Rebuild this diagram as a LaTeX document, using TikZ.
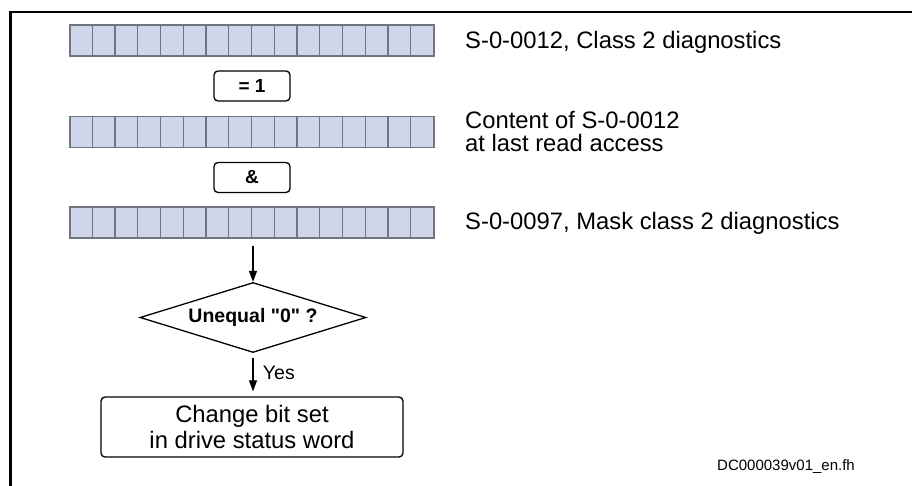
\documentclass[tikz,border=0pt]{standalone}
\usepackage{fontspec}
\setmainfont{Liberation Sans}[Ligatures=TeXOff]
\usetikzlibrary{shapes.geometric,arrows.meta}
\definecolor{cellfill}{RGB}{208,214,234}
\definecolor{celldraw}{RGB}{112,117,128}
\tikzset{
  bitrow/.style={draw=celldraw, fill=cellfill, line width=1.1pt, minimum width=364pt, minimum height=31pt, inner sep=0pt},
  opbox/.style={draw, line width=1.3pt, rounded corners=4pt, minimum width=76pt, minimum height=30pt, inner sep=0pt, font=\fontsize{19}{21}\selectfont\bfseries},
  sidetext/.style={anchor=base west, inner sep=0pt, font=\fontsize{23.8}{23.5}\selectfont},
  flowarrow/.style={line width=1.2pt, -{Triangle[length=11pt,width=8pt]}},
}
\begin{document}
\begin{tikzpicture}[x=1pt,y=-1pt]
\useasboundingbox (0,0) rectangle (912,486);
% frame corner
\draw[line width=3pt] (10.5,486) -- (10.5,11);
\draw[line width=2pt] (9,11.8) -- (912,11.8);
% bit rows
\node[bitrow] (row1) at (252,40.5) {};
\node[bitrow] (row2) at (252,132) {};
\node[bitrow] (row3) at (252,222.5) {};
\foreach \r in {row1,row2,row3}{
  \foreach \i in {1,...,15}{
    \draw[celldraw, line width=1.1pt] ([xshift=\i*22.75pt]\r.north west) -- ([xshift=\i*22.75pt]\r.south west);
  }
}
% operator boxes
\node[opbox] (xor) at (252,86) {= 1};
\node[opbox] (and) at (252,177.5) {\&};
% side texts
\node[sidetext] (t1) at (465,48.3) {S-0-0012, Class 2 diagnostics};
\node[anchor=west, inner sep=0pt, align=left, font=\fontsize{23.8}{23.5}\selectfont] (t2) at (465,131.5) {Content of S-0-0012\\at last read access};
\node[sidetext] (t3) at (465,230) {S-0-0097, Mask class 2 diagnostics};
% decision
\node[diamond, draw, line width=1.3pt, aspect=3.2, minimum width=226pt, minimum height=70pt, inner sep=0pt, font=\fontsize{19.5}{20}\selectfont\bfseries] (dec) at (253,317.5) {Unequal "0" ?};
\draw[flowarrow] ([yshift=-7pt]row3.south -| dec.north) -- (dec.north);
% result box
\node[draw, line width=1.3pt, rounded corners=4pt, minimum width=302pt, minimum height=60pt, inner sep=0pt, align=center, font=\fontsize{23.8}{26}\selectfont] (res) at (252,427) {Change bit set\\in drive status word};
\draw[flowarrow] ([yshift=-5pt]dec.south) -- ([yshift=5pt]dec.south |- res.north) node[pos=0.45, right=6pt, font=\fontsize{19.5}{20}\selectfont] (yes) {Yes};
% document code
\node[anchor=base west, inner sep=0pt, font=\fontsize{15}{16}\selectfont] (code) at (717,470) {DC000039v01\_en.fh};
\end{tikzpicture}
\end{document}
